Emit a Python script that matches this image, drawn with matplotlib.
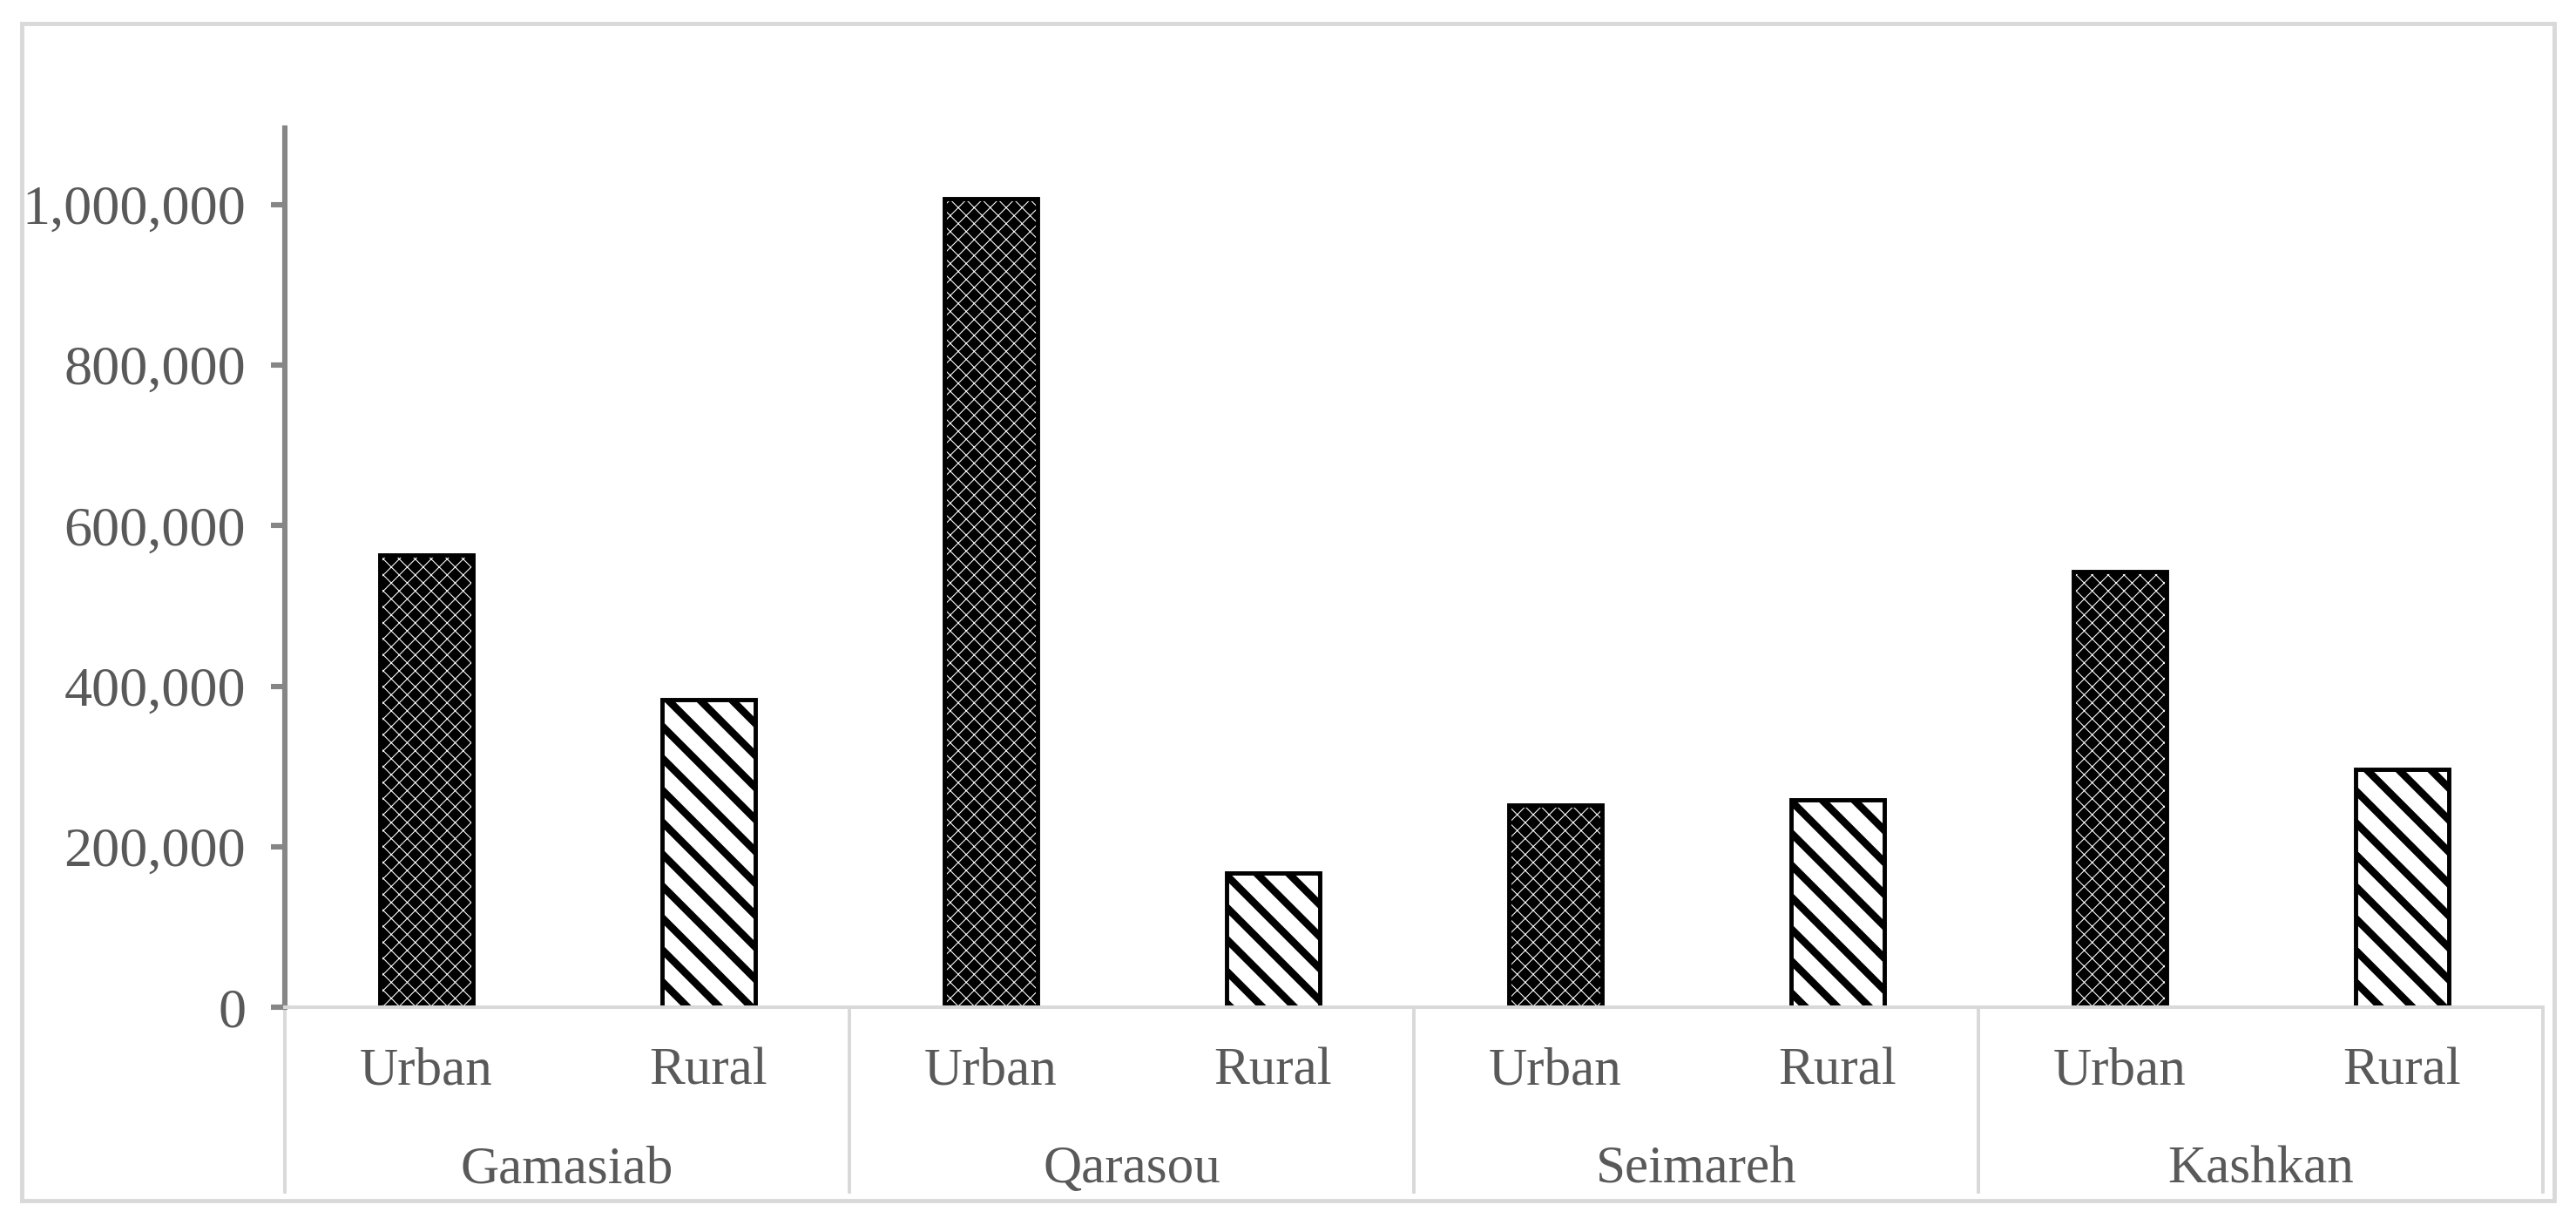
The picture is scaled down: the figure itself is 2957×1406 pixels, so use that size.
import matplotlib
matplotlib.use("Agg")
import matplotlib.pyplot as plt
from matplotlib.patches import Rectangle
from matplotlib.ticker import FuncFormatter

# data
basins = ["Gamasiab", "Qarasou", "Seimareh", "Kashkan"]
areas = ["Urban", "Rural"]
urban = [564000, 1008000, 252000, 543000]
rural = [383000, 167000, 258000, 296000]
yticks = [0, 200000, 400000, 600000, 800000, 1000000]

plt.rcParams["font.family"] = ["Liberation Serif", "DejaVu Serif"]
grey_text = "#595959"
light = "#d9d9d9"

fig = plt.figure(figsize=(2957 / 220, 1406 / 220), dpi=220)
ax = fig.add_axes([0.1106, 0.1778, 0.9872 - 0.1106, 0.8955 - 0.1778])

xu = [2 * i for i in range(len(basins))]
xr = [2 * i + 1 for i in range(len(basins))]
w = 0.33

# urban bars: black with white net pattern
plt.rcParams["hatch.linewidth"] = 0.35
ub = ax.bar(xu, urban, w, color="black", edgecolor="white", linewidth=0, hatch="xxxx")
for p in ub:
    if hasattr(p, "set_hatch_linewidth"):
        p.set_hatch_linewidth(0.35)
ax.bar(xu, urban, w, fill=False, edgecolor="black", linewidth=1.6)

# rural bars: diagonal stripes
plt.rcParams["hatch.linewidth"] = 2.8
rb = ax.bar(xr, rural, w, color="white", edgecolor="black", linewidth=1.6, hatch="\\\\")
for p in rb:
    if hasattr(p, "set_hatch_linewidth"):
        p.set_hatch_linewidth(2.8)

ax.set_xlim(-0.5, 7.5)
ax.set_ylim(0, 1095500)
ax.set_yticks(yticks)
ax.yaxis.set_major_formatter(FuncFormatter(lambda v, pos: f"{int(v):,}"))
ax.tick_params(axis="y", direction="out", length=5.2, width=2, color="#868686",
               labelsize=21, labelcolor=grey_text, pad=9.5)
ax.set_xticks([])
for s in ["top", "right"]:
    ax.spines[s].set_visible(False)
ax.spines["left"].set_color("#868686")
ax.spines["left"].set_linewidth(2)
ax.spines["bottom"].set_color(light)
ax.spines["bottom"].set_linewidth(1.3)

# two-level category labels
tr = ax.get_xaxis_transform()
for i, b in enumerate(basins):
    ax.text(xu[i], -0.0733, areas[0], transform=tr, ha="center", va="center",
            fontsize=20, color=grey_text)
    ax.text(xr[i], -0.0733, areas[1], transform=tr, ha="center", va="center",
            fontsize=20, color=grey_text)
    ax.text(xu[i] + 0.5, -0.185, b, transform=tr, ha="center", va="center",
            fontsize=20, color=grey_text)
for xs in [-0.5, 1.5, 3.5, 5.5, 7.5]:
    ax.plot([xs, xs], [0, -0.21], transform=tr, color=light, linewidth=1.3,
            clip_on=False)

# chart border
fig.patches.append(Rectangle((0.00845, 0.0199), 0.9831, 0.9609, transform=fig.transFigure,
                             fill=False, edgecolor=light, linewidth=1.6))

fig.savefig("out.png", dpi=220)
